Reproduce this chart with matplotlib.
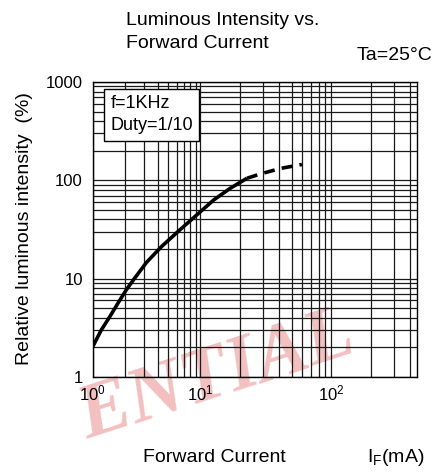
import numpy as np
import matplotlib
matplotlib.use('Agg')
import matplotlib.pyplot as plt
from matplotlib.ticker import FixedLocator, LogLocator, NullFormatter

## Datos
if_solid = [1.0, 1.2, 1.44, 1.71, 2.05, 2.45, 3.15, 4.35, 6.43, 10, 12.6, 16.9, 22.7]
iv_solid = [2.03, 3.0, 4.1, 5.6, 7.7, 10.1, 14.6, 21.2, 31.3, 48, 63, 83, 105]
if_dash = [22.7, 28.7, 40.8, 59.7]
iv_dash = [105, 116, 132, 145]
x_ticks = [1, 10, 100]
x_ticklabels = ['$10^0$', '$10^1$', '$10^2$']
y_ticks = [1, 10, 100, 1000]
y_ticklabels = ['1', '10', '100', '1000']

plt.rcParams['font.family'] = ['Liberation Sans', 'DejaVu Sans']
plt.rcParams['mathtext.fontset'] = 'custom'
plt.rcParams['mathtext.rm'] = 'Liberation Sans'
plt.rcParams['mathtext.it'] = 'Liberation Sans:italic'

## Escala log por tramos (la primera decada del original es mas corta)
def fwd(x):
    lx = np.log10(np.maximum(x, 1e-10))
    return np.where(lx < 1, lx * 108.0, 108.0 + (lx - 1) * 131.0)

def inv(y):
    y = np.asarray(y, dtype=float)
    return np.where(y < 108, 10 ** (y / 108.0), 10 ** (1 + (y - 108.0) / 131.0))

fig = plt.figure(figsize=(4.35, 4.72), dpi=100)

## Marca de agua
fig.text(0.5, 0.2, 'ENTIAL', fontsize=56, family='Liberation Serif', fontweight='bold',
         style='italic', color='#f3c0c0', rotation=18, ha='center', va='center', zorder=-1)

ax = fig.add_axes([92.7 / 435, 1 - 377 / 472, (417.3 - 92.7) / 435, (377 - 82) / 472])
ax.patch.set_alpha(0)
ax.set_xscale('function', functions=(fwd, inv))
ax.set_yscale('log')
ax.set_xlim(1, 456)
ax.set_ylim(1, 1000)

ax.xaxis.set_major_locator(FixedLocator(x_ticks))
ax.xaxis.set_minor_locator(LogLocator(base=10, subs=np.arange(2, 10), numticks=20))
ax.xaxis.set_minor_formatter(NullFormatter())
ax.set_xticklabels(x_ticklabels)
ax.yaxis.set_major_locator(FixedLocator(y_ticks))
ax.yaxis.set_minor_locator(LogLocator(base=10, subs=np.arange(2, 10), numticks=20))
ax.yaxis.set_minor_formatter(NullFormatter())
ax.set_yticklabels(y_ticklabels)
ax.tick_params(which='both', length=0, labelsize=12)
ax.tick_params(axis='x', pad=5)
ax.tick_params(axis='y', pad=7)

ax.grid(which='both', color='0.1', lw=0.9)
for s in ax.spines.values():
    s.set_linewidth(1.0)

ax.plot(if_solid, iv_solid, color='black', lw=2.6, solid_capstyle='butt', zorder=3)
ax.plot(if_dash, iv_dash, color='black', lw=2.6, ls=(0, (3, 2)), zorder=3)

## Recuadro de condiciones
ax.text(0.055, 0.955, 'f=1KHz\nDuty=1/10', transform=ax.transAxes, ha='left', va='top',
        fontsize=13, linespacing=1.4, zorder=4,
        bbox=dict(boxstyle='square,pad=0.35', facecolor='white', edgecolor='black', lw=1))

## Textos
fig.text(126 / 435, 1 - 25 / 472, 'Luminous Intensity vs.', fontsize=14, va='baseline', ha='left')
fig.text(126 / 435, 1 - 48 / 472, 'Forward Current', fontsize=14, va='baseline', ha='left')
fig.text(357 / 435, 1 - 60 / 472, 'Ta=25°C', fontsize=14, va='baseline', ha='left')
fig.text(25 / 435, 1 - 229 / 472, 'Relative luminous intensity  (%)', fontsize=14,
         rotation=90, ha='center', va='center')
fig.text(143 / 435, 1 - 462 / 472, 'Forward Current', fontsize=14, va='baseline', ha='left')
fig.text(367 / 435, 1 - 462 / 472, r'I$_\mathregular{F}$(mA)', fontsize=14, va='baseline', ha='left')

fig.savefig('out.png', dpi=100)
